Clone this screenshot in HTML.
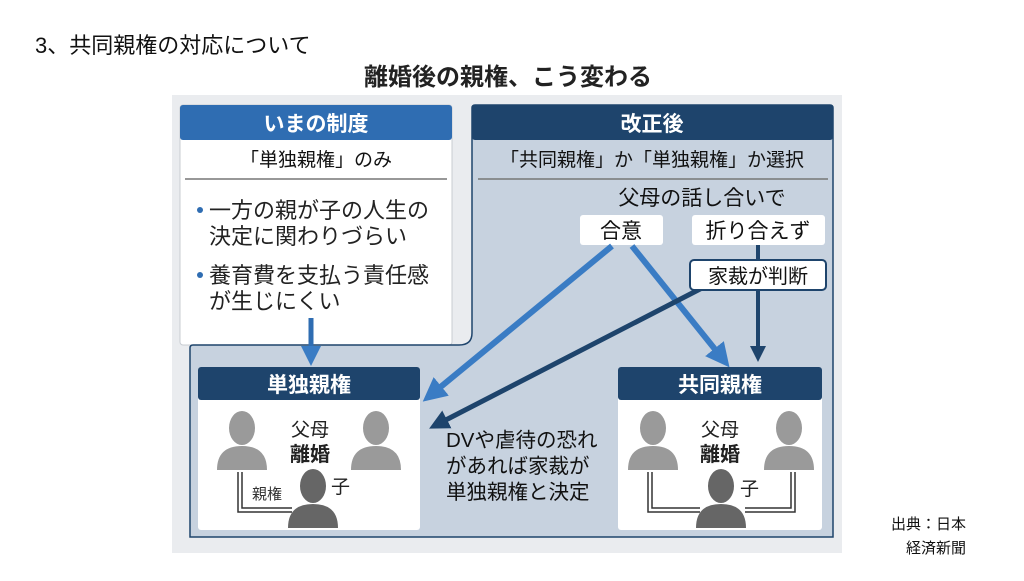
<!DOCTYPE html>
<html><head><meta charset="utf-8"><style>
body{margin:0;width:1024px;height:576px;background:#fff;overflow:hidden}
svg text{font-family:"Liberation Sans","Noto Sans CJK JP",sans-serif}
</style></head><body>
<svg width="1024" height="576" viewBox="0 0 1024 576" xmlns="http://www.w3.org/2000/svg">
<defs>
<g id="person"><ellipse cx="25" cy="18" rx="13" ry="17"/><path d="M0 60 Q0 36 25 36 Q50 36 50 60 Z"/></g>
<marker id="al" markerWidth="4" markerHeight="4" refX="2" refY="2" orient="auto" markerUnits="strokeWidth"><path d="M0,0 L4,2 L0,4 Z" fill="#3a7cc4"/></marker>
<marker id="ad" markerWidth="4" markerHeight="4" refX="2" refY="2" orient="auto" markerUnits="strokeWidth"><path d="M0,0 L4,2 L0,4 Z" fill="#1e446c"/></marker>
</defs>
<text x="35" y="53" font-size="22" fill="#111">3、共同親権の対応について</text>
<text x="508" y="85" font-size="24" font-weight="bold" fill="#222" text-anchor="middle">離婚後の親権、こう変わる</text>
<rect x="172" y="95" width="670" height="458" fill="#eaecef"/>
<rect x="180" y="105" width="272" height="240" fill="#fff" stroke="#c8ccd2" rx="3"/>
<rect x="180" y="105" width="272" height="35" fill="#2f6db2" rx="3"/>
<text x="316" y="131" font-size="21" font-weight="bold" fill="#fff" text-anchor="middle">いまの制度</text>
<text x="316" y="166" font-size="19" fill="#111" text-anchor="middle">「単独親権」のみ</text>
<line x1="185" y1="179" x2="447" y2="179" stroke="#777" stroke-width="1.5"/>
<circle cx="200" cy="210" r="3" fill="#2f6db2"/><circle cx="200" cy="275" r="3" fill="#2f6db2"/>
<text font-size="22" fill="#222"><tspan x="209" y="218">一方の親が子の人生の</tspan><tspan x="209" y="244">決定に関わりづらい</tspan><tspan x="209" y="283">養育費を支払う責任感</tspan><tspan x="209" y="309">が生じにくい</tspan></text>
<path d="M472 108 Q472 105 475 105 L830 105 Q833 105 833 108 L833 537 L190 537 L190 348 Q190 345 193 345 L459 345 Q472 345 472 333 Z" fill="#c7d2df" stroke="#1e446c" stroke-width="1.5"/>
<rect x="472" y="105" width="361" height="35" fill="#1e446c" rx="3"/>
<text x="652" y="131" font-size="21" font-weight="bold" fill="#fff" text-anchor="middle">改正後</text>
<text x="652" y="166" font-size="19" fill="#111" text-anchor="middle">「共同親権」か「単独親権」か選択</text>
<line x1="478" y1="179" x2="828" y2="179" stroke="#777" stroke-width="1.5"/>
<text x="702" y="205" font-size="21" fill="#111" text-anchor="middle">父母の話し合いで</text>
<rect x="580" y="215" width="83" height="30" fill="#fff" rx="3"/>
<text x="621" y="238" font-size="21" fill="#111" text-anchor="middle">合意</text>
<rect x="692" y="215" width="133" height="30" fill="#fff" rx="3"/>
<text x="758" y="238" font-size="21" fill="#111" text-anchor="middle">折り合えず</text>
<line x1="311" y1="318" x2="311" y2="356" stroke="#2f6db2" stroke-width="5" marker-end="url(#al)"/>
<line x1="612" y1="246" x2="432" y2="394" stroke="#3a7cc4" stroke-width="6" marker-end="url(#al)"/>
<line x1="632" y1="246" x2="722" y2="358" stroke="#3a7cc4" stroke-width="6" marker-end="url(#al)"/>
<line x1="758" y1="245" x2="758" y2="354" stroke="#1e446c" stroke-width="4" marker-end="url(#ad)"/>
<line x1="702" y1="288" x2="438" y2="424" stroke="#1e446c" stroke-width="5" marker-end="url(#ad)"/>
<rect x="690" y="260" width="136" height="30" fill="#fff" stroke="#1e446c" stroke-width="2" rx="4"/>
<text x="758" y="283" font-size="20" fill="#111" text-anchor="middle">家裁が判断</text>
<text font-size="20.5" fill="#111"><tspan x="446" y="447">DVや虐待の恐れ</tspan><tspan x="446" y="473">があれば家裁が</tspan><tspan x="446" y="499">単独親権と決定</tspan></text>
<rect x="198" y="367" width="222" height="163" fill="#fff" rx="3"/>
<rect x="198" y="367" width="222" height="33" fill="#1e446c" rx="3"/>
<text x="309" y="392" font-size="21" font-weight="bold" fill="#fff" text-anchor="middle">単独親権</text>
<use href="#person" x="217" y="410" fill="#9a9a9a"/>
<use href="#person" x="351" y="410" fill="#9a9a9a"/>
<text x="310" y="436" font-size="19" fill="#222" text-anchor="middle">父母</text>
<text x="310" y="461" font-size="20" font-weight="bold" fill="#222" text-anchor="middle">離婚</text>
<path d="M238 472 V512 H292 M242 472 V508 H292" fill="none" stroke="#333" stroke-width="1.5"/>
<text x="252" y="499" font-size="15" fill="#333">親権</text>
<use href="#person" x="288" y="468" fill="#666"/>
<text x="331" y="493" font-size="19" fill="#222">子</text>
<rect x="618" y="367" width="204" height="163" fill="#fff" rx="3"/>
<rect x="618" y="367" width="204" height="33" fill="#1e446c" rx="3"/>
<text x="720" y="392" font-size="21" font-weight="bold" fill="#fff" text-anchor="middle">共同親権</text>
<use href="#person" x="628" y="410" fill="#9a9a9a"/>
<use href="#person" x="764" y="410" fill="#9a9a9a"/>
<text x="720" y="436" font-size="19" fill="#222" text-anchor="middle">父母</text>
<text x="720" y="461" font-size="20" font-weight="bold" fill="#222" text-anchor="middle">離婚</text>
<path d="M648 472 V512 H700 M652 472 V508 H700 M795 472 V512 H745 M791 472 V508 H745" fill="none" stroke="#333" stroke-width="1.5"/>
<use href="#person" x="696" y="468" fill="#666"/>
<text x="740" y="495" font-size="19" fill="#222">子</text>
<text x="966" y="529" font-size="15" fill="#111" text-anchor="end">出典：日本</text>
<text x="966" y="553" font-size="15" fill="#111" text-anchor="end">経済新聞</text>
</svg>
</body></html>
